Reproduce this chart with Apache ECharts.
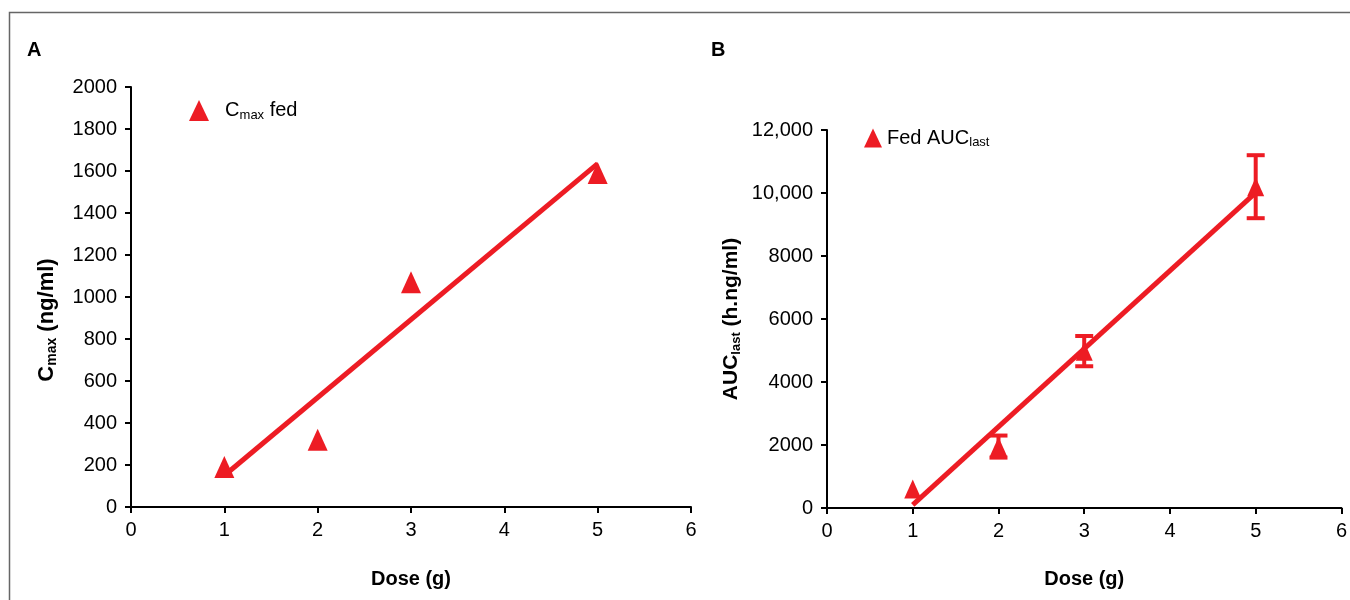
<!DOCTYPE html>
<html>
<head>
<meta charset="utf-8">
<script src="https://cdn.jsdelivr.net/npm/echarts@6/dist/echarts.min.js"></script>
<style>
  html, body { margin: 0; padding: 0; background: #fff; }
  #chart { width: 1350px; height: 600px; }
</style>
</head>
<body>
<div id="chart"></div>
<script>
  /** Data: panel A (Cmax) */
  var doseA = [1, 2, 3, 5];
  var cmaxFed = [190, 320, 1070, 1590];
  var fitDoseA = [1, 5];
  var fitCmax = [150, 1635];

  /** Data: panel B (AUClast) */
  var doseB = [1, 2, 3, 5];
  var aucFed = [600, 1950, 4980, 10200];
  var aucErr = [0, 350, 480, 1000];
  var fitDoseB = [1, 5];
  var fitAuc = [100, 10010];

  var red = '#ed1c24';
  var font = 'Liberation Sans, Arial, sans-serif';

  function pairs(xs, ys) {
    return xs.map(function(x, i) { return [x, ys[i]]; });
  }

  function errorData(xs, ys, es) {
    return xs.map(function(x, i) { return [x, ys[i] - es[i], ys[i] + es[i]]; });
  }

  function errorBar(params, api) {
    var x = api.value(0), lo = api.value(1), hi = api.value(2);
    if (hi === lo) return;
    var top = api.coord([x, hi]);
    var bot = api.coord([x, lo]);
    var w = 9;
    var style = { stroke: red, lineWidth: 4, fill: null };
    return {
      type: 'group',
      children: [
        { type: 'line', shape: { x1: top[0], y1: top[1], x2: bot[0], y2: bot[1] }, style: style },
        { type: 'line', shape: { x1: top[0] - w, y1: top[1], x2: top[0] + w, y2: top[1] }, style: style },
        { type: 'line', shape: { x1: bot[0] - w, y1: bot[1], x2: bot[0] + w, y2: bot[1] }, style: style }
      ]
    };
  }

  var axisLine = { lineStyle: { color: '#000', width: 2 } };
  var axisTick = { inside: false, length: 6, lineStyle: { color: '#000', width: 2 } };
  var tickLabel = { color: '#000', fontSize: 20, fontFamily: font };

  function nameStyle(size, sub, pad) {
    return {
      color: '#000', fontSize: size, fontWeight: 'bold', fontFamily: font,
      padding: pad,
      rich: {
        b: { color: '#000', fontSize: size, fontWeight: 'bold', fontFamily: font, lineHeight: 24 },
        s: { color: '#000', fontSize: sub, fontWeight: 'bold', fontFamily: font, verticalAlign: 'bottom', lineHeight: 15 }
      }
    };
  }

  var legendRich = {
    n: { color: '#000', fontSize: 20, fontFamily: font, lineHeight: 22 },
    s: { color: '#000', fontSize: 13, fontFamily: font, verticalAlign: 'bottom', lineHeight: 14 }
  };
  var xName = { color: '#000', fontSize: 20, fontWeight: 'bold', fontFamily: font };

  var option = {
    animation: false,
    backgroundColor: '#fff',
    title: [
      { text: 'A', left: 22, top: 35, textStyle: { fontSize: 20, fontWeight: 'bold', fontFamily: font, color: '#000' } },
      { text: 'B', left: 706, top: 35, textStyle: { fontSize: 20, fontWeight: 'bold', fontFamily: font, color: '#000' } }
    ],
    graphic: [{
      type: 'rect',
      shape: { x: 9.5, y: 12.5, width: 1400, height: 700 },
      style: { fill: null, stroke: '#666', lineWidth: 1.5 },
      silent: true
    }],
    legend: [{
      data: ['Cmax fed'],
      left: 184, top: 95,
      icon: 'triangle', itemWidth: 20, itemHeight: 21,
      formatter: function() { return '{n|  C}{s|max}{n| fed}'; },
      textStyle: { rich: legendRich }
    }, {
      data: ['Fed AUClast'],
      left: 859, top: 123,
      icon: 'triangle', itemWidth: 18, itemHeight: 19,
      formatter: function() { return '{n|Fed AUC}{s|last}'; },
      textStyle: { rich: legendRich }
    }],
    grid: [
      { left: 131, top: 87, width: 560, height: 420 },
      { left: 827, top: 130, width: 518, height: 378 }
    ],
    xAxis: [{
      gridIndex: 0, type: 'value', min: 0, max: 6, interval: 1,
      name: 'Dose (g)', nameLocation: 'middle', nameGap: 62,
      nameTextStyle: xName,
      axisLine: axisLine, axisTick: axisTick, splitLine: { show: false },
      axisLabel: Object.assign({ margin: 13 }, tickLabel)
    }, {
      gridIndex: 1, type: 'value', min: 0, max: 6, interval: 1,
      name: 'Dose (g)', nameLocation: 'middle', nameGap: 61,
      nameTextStyle: xName,
      axisLine: axisLine, axisTick: axisTick, splitLine: { show: false },
      axisLabel: Object.assign({ margin: 13 }, tickLabel)
    }],
    yAxis: [{
      gridIndex: 0, type: 'value', min: 0, max: 2000, interval: 200,
      name: '{b|C}{s|max}{b| (ng/ml)}', nameLocation: 'middle', nameGap: 72, nameRotate: 90,
      nameTextStyle: nameStyle(22, 14, [0, 46, 0, 0]),
      axisLine: Object.assign({ show: true }, axisLine), axisTick: axisTick, splitLine: { show: false },
      axisLabel: Object.assign({ margin: 14, formatter: function(v) { return String(v); } }, tickLabel)
    }, {
      gridIndex: 1, type: 'value', min: 0, max: 12000, interval: 2000,
      name: '{b|AUC}{s|last}{b| (h.ng/ml)}', nameLocation: 'middle', nameGap: 84, nameRotate: 90,
      nameTextStyle: nameStyle(21, 13, [0, 0, 0, 0]),
      axisLine: Object.assign({ show: true }, axisLine), axisTick: axisTick, splitLine: { show: false },
      axisLabel: Object.assign({
        margin: 14,
        formatter: function(v) { return v >= 10000 ? v.toLocaleString('en-US') : String(v); }
      }, tickLabel)
    }],
    series: [{
      name: 'Cmax fit', type: 'line', xAxisIndex: 0, yAxisIndex: 0,
      data: pairs(fitDoseA, fitCmax), showSymbol: false, symbol: 'none',
      lineStyle: { color: red, width: 5 }, z: 2
    }, {
      name: 'Cmax fed', type: 'scatter', xAxisIndex: 0, yAxisIndex: 0,
      data: pairs(doseA, cmaxFed), symbol: 'triangle', symbolSize: [20, 22],
      itemStyle: { color: red, opacity: 1 }, z: 3
    }, {
      name: 'AUC fit', type: 'line', xAxisIndex: 1, yAxisIndex: 1,
      data: pairs(fitDoseB, fitAuc), showSymbol: false, symbol: 'none',
      lineStyle: { color: red, width: 5 }, z: 2
    }, {
      name: 'AUC error', type: 'custom', xAxisIndex: 1, yAxisIndex: 1,
      data: errorData(doseB, aucFed, aucErr), renderItem: errorBar,
      encode: { x: 0, y: [1, 2] }, z: 3
    }, {
      name: 'Fed AUClast', type: 'scatter', xAxisIndex: 1, yAxisIndex: 1,
      data: pairs(doseB, aucFed), symbol: 'triangle', symbolSize: [17, 19],
      itemStyle: { color: red, opacity: 1 }, z: 3
    }]
  };

  echarts.init(document.getElementById('chart')).setOption(option);
</script>
</body>
</html>
